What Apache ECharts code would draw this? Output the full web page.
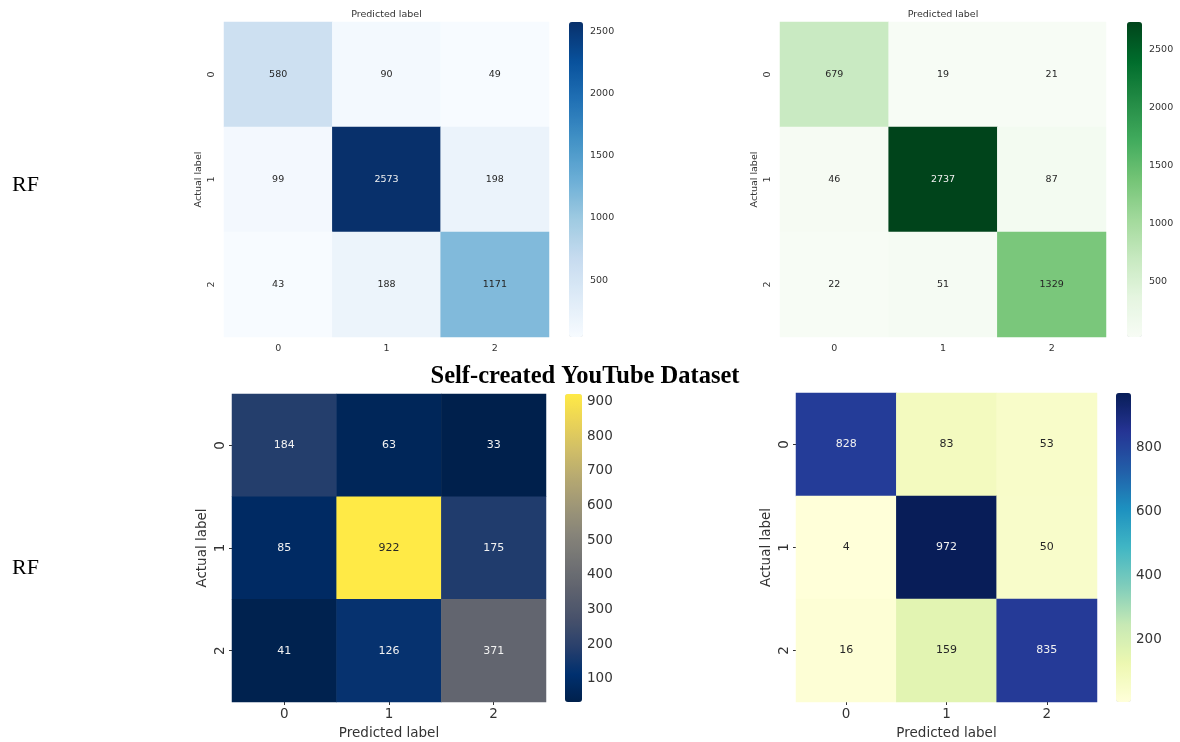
<!DOCTYPE html>
<html>
<head>
<meta charset="utf-8">
<script src="https://cdn.jsdelivr.net/npm/echarts@6/dist/echarts.min.js"></script>
<style>
  html, body { margin: 0; padding: 0; background: #fff; }
  #main { width: 1180px; height: 742px; }
</style>
</head>
<body>
<div id="main"></div>
<script>
// class labels
var classes = ['0', '1', '2'];

// confusion matrices (rows = actual, cols = predicted)
var rfTopLeft = [
    [580, 90, 49],
    [99, 2573, 198],
    [43, 188, 1171]
];
var rfTopRight = [
    [679, 19, 21],
    [46, 2737, 87],
    [22, 51, 1329]
];
var rfBottomLeft = [
    [184, 63, 33],
    [85, 922, 175],
    [41, 126, 371]
];
var rfBottomRight = [
    [828, 83, 53],
    [4, 972, 50],
    [16, 159, 835]
];

// colorbar tick labels
var ticksTopLeft = [500, 1000, 1500, 2000, 2500];
var ticksTopRight = [500, 1000, 1500, 2000, 2500];
var ticksBottomLeft = [100, 200, 300, 400, 500, 600, 700, 800, 900];
var ticksBottomRight = [200, 400, 600, 800];

// colormaps
var blues = ['#f7fbff', '#deebf7', '#c6dbef', '#9ecae1', '#6baed6', '#4292c6', '#2171b5', '#08519c', '#08306b'];
var greens = ['#f7fcf5', '#e5f5e0', '#c7e9c0', '#a1d99b', '#74c476', '#41ab5d', '#238b45', '#006d2c', '#00441b'];
var cividis = ['#00204c', '#00306f', '#2a406c', '#48526b', '#5e626e', '#727374', '#878479', '#9e9677', '#b6a971', '#d0be67', '#ead357', '#ffea46'];
var ylgnbu = ['#ffffd9', '#edf8b1', '#c7e9b4', '#7fcdbb', '#41b6c4', '#1d91c0', '#225ea8', '#253494', '#081d58'];

var font = 'DejaVu Sans';
var axisColor = '#333';

var panels = [
    {m: rfTopLeft, ticks: ticksTopLeft, colors: blues,
        grid: [224, 22, 325, 315], bar: [569, 22, 14, 315],
        fs: 9.5, cellFs: 9.5, big: false, light: function (t) { return t > 0.6; }},
    {m: rfTopRight, ticks: ticksTopRight, colors: greens,
        grid: [780, 22, 326, 315], bar: [1127, 22, 15, 315],
        fs: 9.5, cellFs: 9.5, big: false, light: function (t) { return t > 0.6; }},
    {m: rfBottomLeft, ticks: ticksBottomLeft, colors: cividis,
        grid: [232, 394, 314, 308], bar: [565, 394, 17, 308],
        fs: 13.5, cellFs: 11, big: true, light: function (t) { return t < 0.7; }},
    {m: rfBottomRight, ticks: ticksBottomRight, colors: ylgnbu,
        grid: [796, 393, 301, 309], bar: [1116, 393, 15, 309],
        fs: 13.5, cellFs: 11, big: true, light: function (t) { return t > 0.6; }}
];

var grids = [], xAxes = [], yAxes = [], visualMaps = [], series = [], graphics = [];

panels.forEach(function (p, i) {
    var flat = [].concat.apply([], p.m);
    var mn = Math.min.apply(null, flat);
    var mx = Math.max.apply(null, flat);

    // heatmap grid
    var gi = grids.length;
    grids.push({left: p.grid[0], top: p.grid[1], width: p.grid[2], height: p.grid[3]});
    xAxes.push({
        type: 'category', data: classes, gridIndex: gi, position: 'bottom',
        name: p.big ? 'Predicted label' : '', nameLocation: 'middle', nameGap: 24,
        nameTextStyle: {fontFamily: font, fontSize: 13.5, color: axisColor},
        axisLine: {show: false},
        axisTick: {show: p.big, length: 3, alignWithLabel: true, lineStyle: {color: '#333'}},
        axisLabel: {fontFamily: font, fontSize: p.fs, color: axisColor, margin: p.big ? 5 : 7},
        splitArea: {show: false}, splitLine: {show: false}
    });
    yAxes.push({
        type: 'category', data: classes, gridIndex: gi, inverse: true,
        name: 'Actual label', nameLocation: 'middle', nameGap: p.big ? 23 : 20,
        nameTextStyle: {fontFamily: font, fontSize: p.big ? 13.5 : 9.5, color: axisColor},
        axisLine: {show: false},
        axisTick: {show: p.big, length: 3, alignWithLabel: true, lineStyle: {color: '#333'}},
        axisLabel: {fontFamily: font, fontSize: p.fs, color: axisColor, rotate: 90, margin: p.big ? 5 : 7},
        splitArea: {show: false}, splitLine: {show: false}
    });
    var hx = xAxes.length - 1, hy = yAxes.length - 1;

    // colorbar axis grid
    var bi = grids.length;
    grids.push({left: p.bar[0], top: p.bar[1], width: p.bar[2], height: p.bar[3]});
    xAxes.push({type: 'value', gridIndex: bi, show: false});
    yAxes.push({
        type: 'value', gridIndex: bi, position: 'right', min: mn, max: mx,
        axisLine: {show: false}, splitLine: {show: false},
        axisTick: {show: true, length: 3, customValues: p.ticks, lineStyle: {color: '#333'}},
        axisLabel: {show: true, customValues: p.ticks, fontFamily: font, fontSize: p.fs,
            color: axisColor, margin: p.big ? 5 : 7, formatter: function (v) { return String(v); }}
    });

    var data = [];
    for (var r = 0; r < 3; r++) {
        for (var c = 0; c < 3; c++) {
            var v = p.m[r][c];
            var t = (v - mn) / (mx - mn);
            data.push({value: [c, r, v], label: {color: p.light(t) ? '#f2f2f2' : '#262626'}});
        }
    }
    series.push({
        type: 'heatmap', xAxisIndex: hx, yAxisIndex: hy,
        data: data,
        label: {show: true, fontFamily: font, fontSize: p.cellFs},
        emphasis: {disabled: true}
    });

    visualMaps.push({
        type: 'continuous', seriesIndex: i, min: mn, max: mx, dimension: 2,
        calculable: false, showLabel: false, text: ['', ''], hoverLink: false,
        left: p.bar[0], top: p.bar[1], itemWidth: p.bar[2], itemHeight: p.bar[3],
        padding: 0, borderRadius: 0, inRange: {color: p.colors}
    });

    if (!p.big) {
        graphics.push({
            type: 'text', x: p.grid[0] + p.grid[2] / 2, y: 15,
            style: {text: 'Predicted label', font: '9.5px "DejaVu Sans"', fill: axisColor,
                textAlign: 'center', textVerticalAlign: 'middle'}
        });
    }
});

graphics.push({
    type: 'text', x: 12, y: 185,
    style: {text: 'RF', font: '22px "Liberation Serif"', fill: '#000', textAlign: 'left', textVerticalAlign: 'middle'}
});
graphics.push({
    type: 'text', x: 12, y: 568,
    style: {text: 'RF', font: '22px "Liberation Serif"', fill: '#000', textAlign: 'left', textVerticalAlign: 'middle'}
});
graphics.push({
    type: 'text', x: 585, y: 377,
    style: {text: 'Self-created YouTube Dataset', font: 'bold 24.5px "Liberation Serif"', fill: '#000',
        textAlign: 'center', textVerticalAlign: 'middle'}
});

var myChart = echarts.init(document.getElementById('main'), null, {renderer: 'canvas'});
myChart.setOption({
    animation: false,
    backgroundColor: '#fff',
    grid: grids,
    xAxis: xAxes,
    yAxis: yAxes,
    visualMap: visualMaps,
    series: series,
    graphic: graphics
});
</script>
</body>
</html>
